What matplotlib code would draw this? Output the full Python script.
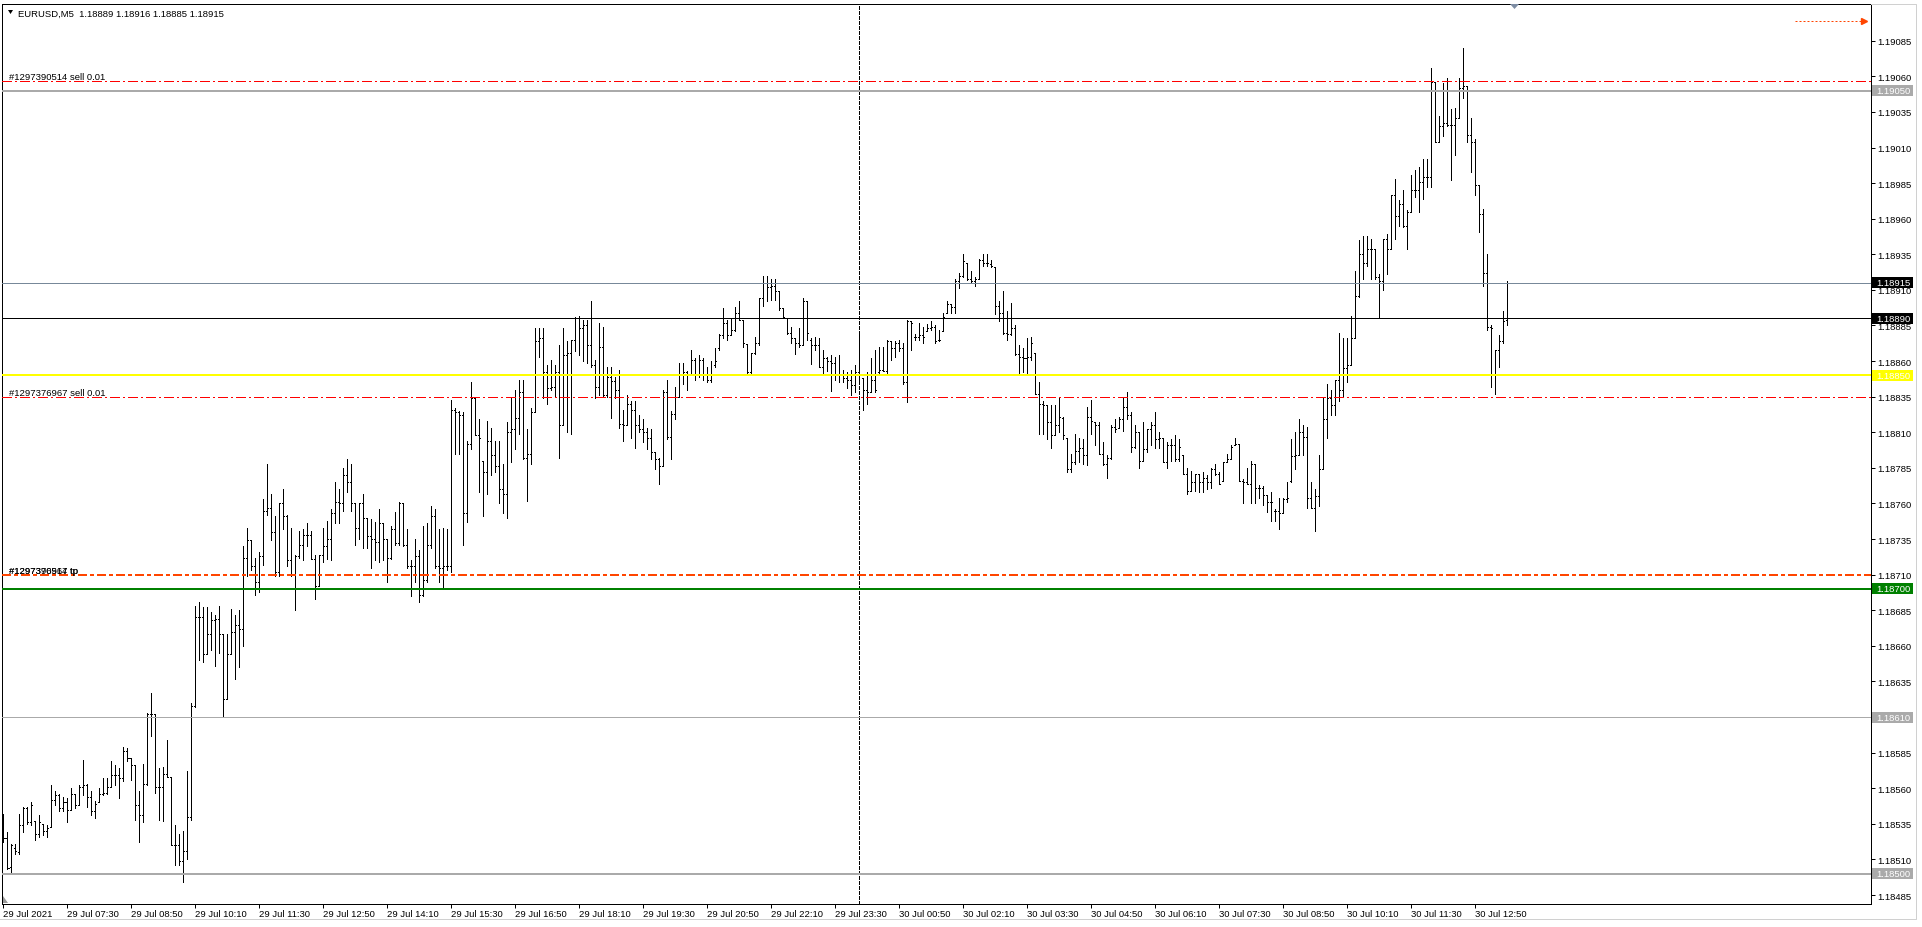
import matplotlib
matplotlib.use('Agg')
import matplotlib.pyplot as plt
import matplotlib.transforms as mtransforms
from matplotlib.collections import LineCollection
from matplotlib.patches import Rectangle, Polygon
from matplotlib.lines import Line2D

plt.rcParams['font.family'] = ['Liberation Sans', 'DejaVu Sans']
plt.rcParams['lines.scale_dashes'] = False

# EURUSD M5 bars, values in points (0.00001) above BASE
BASE = 1.18
OPEN = [
    535, 525, 505, 518, 515, 534, 546, 536, 537, 528,
    535, 530, 533, 552, 555, 546, 550, 545, 556, 548,
    561, 562, 554, 544, 550, 556, 557, 561, 569, 569,
    567, 586, 581, 576, 548, 541, 563, 612, 612, 561,
    561, 570, 568, 520, 520, 509, 516, 540, 618, 680,
    680, 654, 668, 678, 679, 668, 623, 654, 670, 675,
    672, 722, 734, 716, 705, 723, 755, 757, 740, 712,
    760, 751, 720, 710, 723, 731, 738, 738, 721, 702,
    724, 730, 735, 753, 761, 760, 780, 775, 760, 743,
    760, 750, 737, 735, 733, 746, 735, 722, 742, 732,
    760, 731, 716, 716, 723, 696, 706, 731, 751, 716,
    715, 716, 716, 826, 824, 822, 753, 802, 834, 808,
    790, 782, 804, 794, 786, 770, 767, 810, 812, 820,
    838, 792, 795, 824, 874, 876, 852, 841, 842, 852,
    815, 864, 866, 875, 890, 883, 885, 871, 857, 842,
    870, 836, 849, 846, 840, 816, 815, 830, 826, 815,
    812, 810, 806, 796, 791, 786, 838, 807, 823, 835,
    850, 852, 851, 861, 850, 861, 850, 847, 857, 869,
    878, 887, 878, 882, 894, 889, 872, 852, 866, 873,
    904, 915, 912, 913, 909, 897, 890, 880, 876, 873,
    871, 902, 875, 871, 871, 856, 862, 860, 859, 850,
    850, 848, 847, 843, 852, 848, 840, 838, 847, 852,
    854, 853, 874, 869, 873, 869, 845, 888, 877, 877,
    878, 881, 883, 884, 875, 881, 894, 900, 898, 916,
    920, 929, 918, 916, 918, 931, 929, 928, 926, 899,
    894, 880, 879, 883, 865, 863, 862, 863, 866, 837,
    830, 829, 817, 808, 815, 820, 806, 784, 789, 797,
    799, 794, 821, 817, 815, 795, 788, 792, 814, 813,
    819, 828, 822, 800, 810, 790, 798, 812, 815, 805,
    806, 789, 801, 801, 791, 794, 781, 769, 775, 781,
    775, 778, 775, 784, 781, 776, 789, 791, 801, 802,
    776, 775, 774, 788, 771, 771, 766, 761, 755, 755,
    753, 763, 776, 793, 794, 810, 807, 764, 757, 765,
    784, 819, 834, 829, 847, 840, 855, 857, 876, 906,
    935, 929, 939, 939, 919, 916, 946, 939, 977, 962,
    970, 955, 965, 980, 980, 986, 989, 989, 1056, 1014,
    1025, 1027, 1026, 1026, 1031, 1052, 1053, 1019, 1014, 984,
    963, 922, 884, 850, 868, 874, 889,
]
HIGH = [
    542, 529, 521, 521, 542, 547, 547, 550, 537, 541,
    535, 534, 562, 558, 556, 554, 553, 560, 556, 562,
    580, 563, 558, 551, 560, 567, 567, 579, 576, 574,
    589, 588, 581, 576, 558, 577, 613, 627, 612, 574,
    575, 594, 568, 534, 528, 530, 572, 620, 688, 691,
    687, 687, 684, 682, 688, 668, 668, 686, 682, 685,
    730, 743, 734, 722, 726, 763, 788, 767, 751, 760,
    770, 752, 743, 724, 741, 742, 746, 741, 724, 724,
    743, 748, 756, 775, 770, 785, 791, 788, 760, 760,
    767, 750, 749, 747, 756, 746, 735, 744, 754, 761,
    760, 742, 720, 735, 727, 744, 746, 758, 756, 742,
    743, 742, 833, 827, 825, 824, 804, 845, 834, 819,
    790, 818, 813, 804, 804, 788, 817, 834, 840, 847,
    847, 812, 827, 883, 883, 883, 857, 861, 857, 871,
    883, 874, 875, 891, 892, 889, 889, 902, 861, 887,
    884, 856, 856, 849, 854, 826, 836, 832, 832, 822,
    819, 813, 812, 796, 792, 840, 847, 825, 842, 859,
    859, 853, 868, 862, 864, 862, 856, 860, 869, 879,
    897, 889, 890, 898, 902, 889, 872, 866, 877, 904,
    920, 920, 918, 918, 909, 897, 890, 884, 876, 883,
    904, 902, 876, 877, 876, 868, 863, 864, 863, 864,
    854, 852, 854, 857, 879, 848, 852, 862, 868, 870,
    870, 875, 874, 874, 875, 873, 889, 888, 879, 887,
    884, 886, 888, 885, 882, 894, 902, 900, 918, 922,
    935, 929, 923, 919, 932, 935, 935, 931, 926, 902,
    909, 895, 901, 885, 871, 869, 876, 877, 866, 845,
    832, 829, 829, 829, 835, 821, 806, 795, 809, 806,
    805, 828, 833, 817, 817, 803, 794, 815, 819, 821,
    835, 838, 824, 815, 810, 817, 812, 817, 824, 810,
    806, 803, 805, 808, 805, 794, 785, 783, 781, 781,
    782, 780, 785, 788, 782, 789, 795, 801, 806, 802,
    777, 785, 790, 788, 773, 772, 766, 768, 756, 764,
    764, 775, 805, 810, 819, 815, 814, 775, 770, 794,
    835, 844, 840, 847, 880, 876, 876, 892, 923, 945,
    948, 948, 946, 939, 921, 946, 949, 977, 988, 973,
    980, 966, 991, 994, 996, 1002, 1002, 1066, 1056, 1032,
    1055, 1059, 1037, 1038, 1059, 1080, 1053, 1031, 1016, 984,
    967, 935, 885, 868, 878, 895, 916,
]
LOW = [
    522, 503, 500, 514, 514, 529, 535, 534, 524, 526,
    527, 526, 533, 548, 544, 544, 536, 545, 546, 548,
    555, 547, 541, 539, 550, 555, 556, 561, 562, 553,
    565, 579, 566, 538, 522, 536, 562, 597, 557, 538,
    537, 568, 520, 506, 506, 494, 510, 538, 617, 650,
    649, 654, 657, 646, 655, 611, 623, 654, 637, 645,
    660, 709, 713, 696, 698, 717, 752, 734, 709, 709,
    742, 716, 709, 685, 722, 720, 730, 721, 693, 702,
    719, 721, 720, 746, 746, 755, 768, 755, 731, 735,
    729, 729, 715, 720, 719, 720, 705, 721, 731, 731,
    730, 715, 695, 705, 691, 695, 705, 729, 715, 705,
    700, 713, 712, 795, 795, 731, 747, 798, 808, 768,
    751, 767, 780, 782, 760, 753, 750, 789, 798, 809,
    791, 762, 788, 824, 863, 834, 830, 840, 835, 792,
    815, 810, 809, 867, 864, 860, 859, 856, 834, 836,
    835, 835, 820, 834, 813, 804, 815, 806, 799, 810,
    803, 798, 791, 784, 774, 786, 805, 791, 819, 835,
    844, 840, 850, 847, 849, 847, 845, 845, 856, 868,
    876, 875, 878, 881, 889, 870, 851, 851, 865, 871,
    899, 902, 903, 903, 896, 890, 879, 873, 865, 870,
    871, 875, 858, 868, 856, 850, 853, 839, 847, 845,
    845, 841, 836, 838, 847, 826, 830, 838, 838, 851,
    853, 851, 861, 863, 867, 844, 831, 868, 875, 875,
    873, 881, 882, 873, 874, 881, 894, 894, 894, 911,
    919, 917, 915, 913, 918, 927, 927, 926, 893, 888,
    879, 875, 878, 864, 850, 852, 850, 861, 837, 809,
    809, 805, 799, 808, 810, 805, 782, 782, 788, 789,
    788, 787, 809, 801, 795, 787, 778, 791, 810, 813,
    811, 819, 796, 799, 785, 790, 796, 801, 799, 799,
    789, 785, 790, 790, 790, 781, 767, 769, 769, 768,
    768, 770, 771, 780, 774, 776, 789, 791, 801, 776,
    760, 774, 760, 760, 764, 759, 754, 748, 748, 742,
    753, 761, 775, 784, 794, 794, 757, 757, 741, 758,
    784, 806, 822, 822, 832, 835, 845, 857, 876, 905,
    918, 927, 918, 918, 891, 910, 921, 939, 946, 955,
    954, 939, 965, 975, 965, 974, 982, 982, 1014, 1014,
    1018, 1025, 987, 1005, 1031, 1045, 1014, 993, 977, 951,
    913, 882, 842, 837, 856, 873, 885,
]
CLOSE = [
    525, 504, 520, 516, 534, 546, 536, 548, 528, 536,
    530, 532, 552, 555, 546, 550, 545, 556, 548, 561,
    562, 554, 544, 549, 556, 557, 561, 569, 569, 567,
    586, 581, 576, 548, 541, 563, 612, 612, 561, 561,
    570, 568, 520, 520, 509, 516, 540, 618, 680, 680,
    654, 668, 678, 679, 668, 623, 654, 670, 675, 672,
    722, 734, 716, 705, 723, 755, 757, 740, 712, 760,
    751, 720, 710, 723, 731, 738, 738, 721, 702, 724,
    730, 735, 753, 761, 760, 780, 775, 760, 743, 760,
    750, 737, 735, 733, 746, 735, 722, 742, 732, 760,
    731, 716, 716, 723, 696, 706, 731, 751, 716, 715,
    716, 716, 826, 824, 822, 753, 802, 834, 808, 806,
    782, 804, 794, 786, 770, 767, 810, 812, 820, 838,
    792, 795, 824, 874, 876, 852, 841, 842, 852, 815,
    864, 866, 875, 890, 883, 885, 871, 857, 842, 870,
    836, 849, 846, 840, 816, 815, 830, 826, 815, 812,
    810, 806, 796, 791, 786, 838, 807, 823, 835, 850,
    852, 851, 861, 850, 861, 850, 847, 850, 860, 878,
    887, 878, 882, 894, 889, 873, 852, 866, 873, 904,
    915, 912, 913, 909, 897, 891, 880, 876, 873, 871,
    902, 880, 871, 871, 856, 862, 860, 859, 850, 850,
    848, 847, 843, 852, 851, 840, 838, 847, 840, 854,
    853, 874, 869, 873, 869, 845, 888, 887, 877, 878,
    877, 883, 884, 874, 875, 891, 900, 898, 916, 920,
    930, 918, 916, 918, 931, 929, 929, 927, 899, 894,
    880, 879, 883, 865, 863, 862, 863, 873, 837, 830,
    829, 817, 808, 815, 821, 808, 784, 789, 797, 799,
    794, 821, 818, 815, 795, 788, 792, 814, 812, 819,
    828, 822, 800, 810, 790, 798, 812, 815, 805, 806,
    789, 801, 801, 791, 800, 781, 769, 775, 781, 775,
    778, 775, 784, 781, 774, 789, 791, 800, 802, 776,
    775, 774, 788, 771, 771, 766, 761, 761, 755, 753,
    763, 764, 793, 794, 810, 807, 764, 757, 765, 784,
    819, 834, 829, 847, 840, 855, 857, 876, 906, 935,
    929, 939, 939, 919, 916, 946, 939, 977, 962, 970,
    955, 965, 980, 980, 986, 989, 989, 1056, 1014, 1025,
    1027, 1026, 1026, 1031, 1052, 1053, 1019, 1014, 984, 963,
    922, 884, 883, 868, 874, 888, 915,
]

TIME_LABELS = [
    "29 Jul 2021", "29 Jul 07:30", "29 Jul 08:50", "29 Jul 10:10", "29 Jul 11:30",
    "29 Jul 12:50", "29 Jul 14:10", "29 Jul 15:30", "29 Jul 16:50", "29 Jul 18:10",
    "29 Jul 19:30", "29 Jul 20:50", "29 Jul 22:10", "29 Jul 23:30", "30 Jul 00:50",
    "30 Jul 02:10", "30 Jul 03:30", "30 Jul 04:50", "30 Jul 06:10", "30 Jul 07:30",
    "30 Jul 08:50", "30 Jul 10:10", "30 Jul 11:30", "30 Jul 12:50",
]
LABEL_EVERY = 16          # one time label per 80 minutes (16 bars of 5 min)
DAY_SEPARATOR_BAR = 214   # 30 Jul 00:00

TITLE = "EURUSD,M5  1.18889 1.18916 1.18885 1.18915"
SELL_LABELS = ["#1297390514 sell 0.01", "#1297376967 sell 0.01"]
SELL_PRICES = [1.19057, 1.18835]
TP_LABELS = ["#1297390514 tp", "#1297376967 tp"]
TP_PRICE = 1.18710
LEVEL_PRICES = [1.19050, 1.18915, 1.18890, 1.18850, 1.18700, 1.18610, 1.18500]
LEVEL_TEXT = ["1.19050", "1.18915", "1.18890", "1.18850", "1.18700", "1.18610", "1.18500"]
Y_TICKS = [1.18485 + 0.00025 * k for k in range(25)]

# styles for the levels above (colour, line width px, box colour)
LEVEL_STYLE = [
    ('#aaaaaa', 2, '#aaaaaa'),
    ('#778899', 1, '#000000'),
    ('#000000', 1, '#000000'),
    ('#ffff00', 2, '#ffff00'),
    ('#008000', 2, '#008000'),
    ('#aaaaaa', 1, '#aaaaaa'),
    ('#aaaaaa', 2, '#aaaaaa'),
]

W, H = 1922, 928
PX = 0.72  # one pixel in points at dpi 100
FS = 6.8

fig = plt.figure(figsize=(W / 100, H / 100), dpi=100, facecolor='white')
ax = fig.add_axes([2 / W, 1 - 905 / H, 1869 / W, 900 / H])
ax.set_facecolor('white')

def price(v):
    return BASE + v / 1e5

def fxy(x, y):
    return (x / W, 1 - y / H)

# OHLC bars
segs = []
for i in range(len(CLOSE)):
    segs.append([(i, price(LOW[i])), (i, price(HIGH[i]))])
    segs.append([(i - 0.3, price(OPEN[i])), (i, price(OPEN[i]))])
    segs.append([(i, price(CLOSE[i])), (i + 0.3, price(CLOSE[i]))])
ax.add_collection(LineCollection(segs, colors='black', linewidths=PX,
                                 antialiaseds=False, zorder=4))

ax.set_xlim(-0.325, 466.925)
ax.set_ylim(1.184787, 1.191108)

blend = mtransforms.blended_transform_factory(fig.transFigure, ax.transData)

# plain levels with price boxes
box_h = 11 / 1.424 / 1e5
for p, txt, (col, lw, boxc) in zip(LEVEL_PRICES, LEVEL_TEXT, LEVEL_STYLE):
    ax.axhline(p, color=col, lw=lw * PX, antialiased=False, zorder=5)
    ax.add_patch(Rectangle((1872 / W, p - box_h / 2), 41 / W, box_h, transform=blend,
                           facecolor=boxc, edgecolor='none', clip_on=False, zorder=6))
    ax.text(1876 / W, p, txt, transform=blend, color='white', fontsize=FS,
            va='center', ha='left', clip_on=False, zorder=7)

# order lines
for lab, p in zip(SELL_LABELS, SELL_PRICES):
    ax.axhline(p, color='#ff0000', lw=PX, dashes=[10 * PX, 3 * PX, 2 * PX, 3 * PX],
               antialiased=False, zorder=5)
    ax.text(9 / W, p, lab, transform=blend, fontsize=FS, va='bottom', ha='left', zorder=7)

ax.axhline(TP_PRICE, color='#ff4500', lw=2 * PX, dashes=[9 * PX, 3 * PX, 3 * PX, 3 * PX],
           antialiased=False, zorder=5)
for lab in TP_LABELS:
    ax.text(9 / W, TP_PRICE, lab, transform=blend, fontsize=FS, va='bottom', ha='left', zorder=7)

# day separator
ax.axvline(DAY_SEPARATOR_BAR, color='black', lw=PX, dashes=[3 * PX, 2 * PX],
           antialiased=False, zorder=3)

# axes
for s in ax.spines.values():
    s.set_linewidth(PX)
    s.set_color('black')
ax.yaxis.tick_right()
ax.set_yticks(Y_TICKS)
ax.set_yticklabels(['%.5f' % t for t in Y_TICKS])
ax.tick_params(axis='y', direction='out', length=3, width=PX, pad=1.5,
               labelsize=FS, right=True, left=False)
ticks_x = list(range(0, LABEL_EVERY * len(TIME_LABELS), LABEL_EVERY))
ax.set_xticks(ticks_x)
ax.set_xticklabels(TIME_LABELS)
ax.tick_params(axis='x', direction='out', length=3, width=PX, pad=0.5, labelsize=FS)
for t in ax.get_xticklabels():
    t.set_horizontalalignment('left')

# title and small markers
fig.text(18 / W, 1 - 14 / H, TITLE, fontsize=FS, va='center', ha='left')
fig.add_artist(Polygon([fxy(8, 11), fxy(13, 11), fxy(10.5, 15)], closed=True,
                       transform=fig.transFigure, facecolor='black', edgecolor='none'))
fig.add_artist(Polygon([fxy(1510, 5), fxy(1519, 5), fxy(1514.5, 10)], closed=True,
                       transform=fig.transFigure, facecolor='#7d8ca3', edgecolor='none'))
fig.add_artist(Polygon([fxy(3, 904), fxy(3, 897), fxy(8, 904)], closed=True,
                       transform=fig.transFigure, facecolor='#999999', edgecolor='none'))

# shift arrow at top right
x0, y0 = fxy(1795, 22)
x1, _ = fxy(1862, 22)
fig.add_artist(Line2D([x0, x1], [y0, y0], transform=fig.transFigure, color='#ff4500',
                      lw=PX, dashes=[2 * PX, 2 * PX]))
fig.add_artist(Line2D([fxy(1864, 22)[0]], [y0], transform=fig.transFigure, color='#ff4500',
                      marker='>', markersize=4, lw=0))

# window border
gx = [fxy(1871, 5), fxy(1916, 5), fxy(1916, 920), fxy(0, 920)]
fig.add_artist(Line2D([p[0] for p in gx], [p[1] for p in gx], transform=fig.transFigure,
                      color='#d0d0d0', lw=PX))

fig.savefig('out.png', dpi=100, facecolor='white')
